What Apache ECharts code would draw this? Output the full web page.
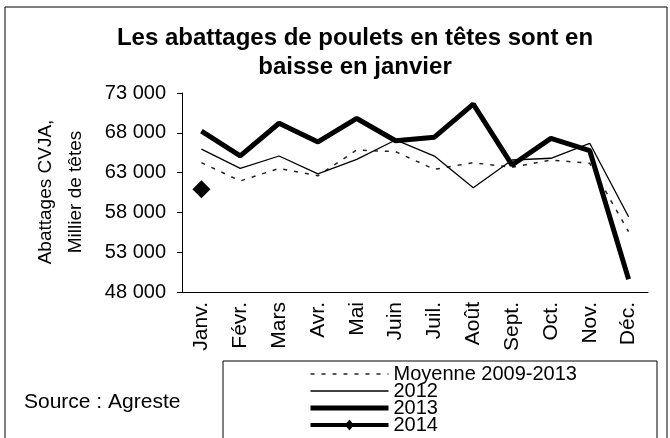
<!DOCTYPE html>
<html>
<head>
<meta charset="utf-8">
<script src="https://cdn.jsdelivr.net/npm/echarts@6/dist/echarts.min.js"></script>
<style>
  html, body { margin: 0; padding: 0; background: #fff; }
  #chart { width: 670px; height: 438px; }
</style>
</head>
<body>
<div id="chart"></div>
<script>
  // mois
  const months = ['Janv.', 'Févr.', 'Mars', 'Avr.', 'Mai', 'Juin', 'Juil.', 'Août', 'Sept.', 'Oct.', 'Nov.', 'Déc.']
  // abattages, milliers de têtes
  const moyenne = [64250, 61950, 63530, 62600, 65840, 65630, 63410, 64250, 63660, 64580, 64170, 55580]
  const y2012 = [65950, 63530, 65085, 62830, 64670, 67100, 65080, 61100, 64580, 64800, 66680, 57460]
  const y2013 = [68200, 65100, 69200, 66850, 69800, 67000, 67450, 71600, 63950, 67300, 65750, 49600]
  const y2014 = [60900, null, null, null, null, null, null, null, null, null, null, null]
  const yTicks = [48000, 73000, 5000]  // min, max, pas

  const font = 'Liberation Sans, Arial, sans-serif'
  // trait épais + petit losange pour la légende 2014
  const icon2014 = 'path://M0,6.5L78,6.5L78,10.5L0,10.5Z M34.5,8.5L39,3L43.5,8.5L39,14Z'
  const noSymbol = { opacity: 0 }

  const option = {
    animation: false,
    title: {
      text: 'Les abattages de poulets en têtes sont en\nbaisse en janvier',
      left: 350,
      top: 19,
      textAlign: 'center',
      textStyle: { fontFamily: font, fontSize: 24, fontWeight: 'bold', color: '#000', lineHeight: 29 }
    },
    grid: { left: 182, right: 22, top: 93, bottom: 146 },
    legend: {
      orient: 'vertical',
      left: 308,
      top: 364,
      height: 120,
      padding: 0,
      itemWidth: 78,
      itemHeight: 17,
      itemGap: -3,
      textStyle: { fontFamily: font, fontSize: 20, color: '#000', lineHeight: 17 },
      data: [
        { name: 'Moyenne 2009-2013', itemStyle: noSymbol, lineStyle: { width: 1.5 } },
        { name: '2012', itemStyle: noSymbol, lineStyle: { width: 1.3 } },
        { name: '2013', itemStyle: noSymbol, lineStyle: { width: 5 } },
        { name: '2014', icon: icon2014 }
      ]
    },
    xAxis: {
      type: 'category',
      data: months,
      axisLine: { lineStyle: { color: '#000', width: 1 } },
      axisTick: { length: 5, lineStyle: { color: '#000' } },
      axisLabel: { rotate: 90, margin: 10, fontFamily: font, fontSize: 21, color: '#000' }
    },
    yAxis: {
      type: 'value',
      min: yTicks[0],
      max: yTicks[1],
      interval: yTicks[2],
      splitLine: { show: false },
      axisLine: { show: true, lineStyle: { color: '#000', width: 1 } },
      axisTick: { show: true, length: 5, lineStyle: { color: '#000' } },
      axisLabel: {
        margin: 16,
        fontFamily: font, fontSize: 20, color: '#000',
        formatter: v => String(v).replace(/\B(?=(\d{3})+(?!\d))/g, ' ')
      }
    },
    graphic: [
      { type: 'rect', shape: { x: 5, y: 7, width: 662, height: 440 }, style: { fill: 'none', stroke: '#000', lineWidth: 1 }, z: -1 },
      { type: 'rect', shape: { x: 223, y: 361, width: 434, height: 90 }, style: { fill: 'none', stroke: '#000', lineWidth: 1 }, z: -1 },
      {
        type: 'text', x: 61, y: 192, rotation: Math.PI / 2,
        style: { text: 'Abattages CVJA,\nMillier de têtes', font: '19px ' + font, fill: '#000', align: 'center', verticalAlign: 'middle', lineHeight: 30 }
      },
      {
        type: 'text', x: 24, y: 402,
        style: { text: 'Source : Agreste', font: '21px ' + font, fill: '#000', align: 'left', verticalAlign: 'middle' }
      }
    ],
    series: [
      {
        name: 'Moyenne 2009-2013', type: 'line', data: moyenne, symbol: 'none',
        lineStyle: { color: '#222', width: 1.5, type: [4, 7] }, itemStyle: { color: '#222' }
      },
      {
        name: '2012', type: 'line', data: y2012, symbol: 'none',
        lineStyle: { color: '#000', width: 1.3 }, itemStyle: { color: '#000' }
      },
      {
        name: '2013', type: 'line', data: y2013, symbol: 'none',
        lineStyle: { color: '#000', width: 5 }, itemStyle: { color: '#000' }
      },
      {
        name: '2014', type: 'line', data: y2014, symbol: 'diamond', symbolSize: 18, showSymbol: true,
        lineStyle: { color: '#000', width: 4 }, itemStyle: { color: '#000' }
      }
    ]
  }

  const chart = echarts.init(document.getElementById('chart'))
  chart.setOption(option)
</script>
</body>
</html>
